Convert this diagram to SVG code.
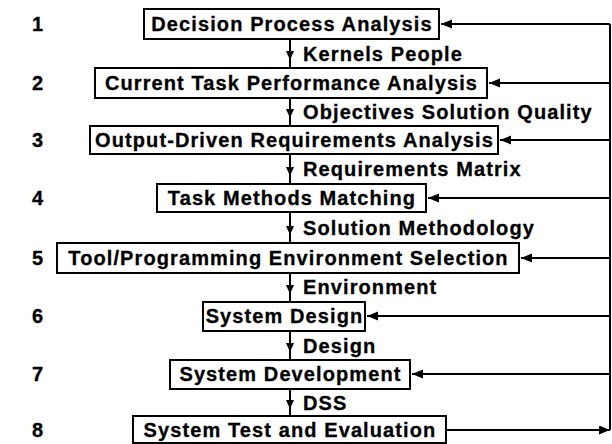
<svg xmlns="http://www.w3.org/2000/svg" width="612" height="444" viewBox="0 0 612 444">
  <style>
    .box { fill: #fff; stroke: #000; stroke-width: 2; }
    .t { font-family: "Liberation Sans", Arial, Helvetica, sans-serif; font-weight: bold; font-size: 20px; letter-spacing: 1.1px; fill: #000; stroke: #000; stroke-width: 0.3; }
    .mid { text-anchor: middle; }
    .wire { stroke: #000; stroke-width: 2; fill: none; }
  </style>
  <defs>
    <marker id="ah" markerUnits="userSpaceOnUse" markerWidth="12" markerHeight="10" refX="11" refY="4.5" orient="auto">
      <path d="M0,0 L11,4.5 L0,9 z" fill="#000"/>
    </marker>
    <marker id="ahd" markerUnits="userSpaceOnUse" markerWidth="10" markerHeight="10" refX="9" refY="4" orient="auto">
      <path d="M0,0 L9,4 L0,8 z" fill="#000"/>
    </marker>
  </defs>

  <!-- step numbers -->
  <g id="step-numbers">
    <text class="t mid" x="38" y="31">1</text>
    <text class="t mid" x="38" y="90">2</text>
    <text class="t mid" x="38" y="147">3</text>
    <text class="t mid" x="38" y="205">4</text>
    <text class="t mid" x="38" y="265">5</text>
    <text class="t mid" x="38" y="323">6</text>
    <text class="t mid" x="38" y="381">7</text>
    <text class="t mid" x="38" y="437">8</text>
  </g>

  <!-- connectors -->
  <g id="connectors">
    <!-- forward flow down the centre -->
    <line class="wire" x1="290" y1="39" x2="290" y2="68"/>
    <line class="wire" x1="290" y1="39" x2="290" y2="60" marker-end="url(#ahd)"/>
    <line class="wire" x1="290" y1="98" x2="290" y2="126"/>
    <line class="wire" x1="290" y1="98" x2="290" y2="118" marker-end="url(#ahd)"/>
    <line class="wire" x1="290" y1="154" x2="290" y2="184"/>
    <line class="wire" x1="290" y1="154" x2="290" y2="176" marker-end="url(#ahd)"/>
    <line class="wire" x1="290" y1="212" x2="290" y2="243"/>
    <line class="wire" x1="290" y1="212" x2="290" y2="235" marker-end="url(#ahd)"/>
    <line class="wire" x1="290" y1="273" x2="290" y2="302"/>
    <line class="wire" x1="290" y1="273" x2="290" y2="294" marker-end="url(#ahd)"/>
    <line class="wire" x1="290" y1="331" x2="290" y2="360"/>
    <line class="wire" x1="290" y1="331" x2="290" y2="352" marker-end="url(#ahd)"/>
    <line class="wire" x1="290" y1="389" x2="290" y2="416"/>
    <line class="wire" x1="290" y1="389" x2="290" y2="409" marker-end="url(#ahd)"/>

    <!-- feedback bus on the right -->
    <line class="wire" x1="610" y1="24" x2="610" y2="430"/>
    <line class="wire" x1="447" y1="430" x2="610" y2="430" marker-end="url(#ah)"/>
    <line class="wire" x1="610" y1="24" x2="441" y2="24" marker-end="url(#ah)"/>
    <line class="wire" x1="610" y1="83" x2="489" y2="83" marker-end="url(#ah)"/>
    <line class="wire" x1="610" y1="140" x2="500" y2="140" marker-end="url(#ah)"/>
    <line class="wire" x1="610" y1="198" x2="428" y2="198" marker-end="url(#ah)"/>
    <line class="wire" x1="610" y1="258" x2="521" y2="258" marker-end="url(#ah)"/>
    <line class="wire" x1="610" y1="316" x2="367" y2="316" marker-end="url(#ah)"/>
    <line class="wire" x1="610" y1="374" x2="412" y2="374" marker-end="url(#ah)"/>
  </g>

  <!-- flow labels -->
  <g id="flow-labels">
    <text class="t" x="303" y="61">Kernels People</text>
    <text class="t" x="303" y="119">Objectives Solution Quality</text>
    <text class="t" x="303" y="176">Requirements Matrix</text>
    <text class="t" x="303" y="235">Solution Methodology</text>
    <text class="t" x="303" y="294">Environment</text>
    <text class="t" x="303" y="353">Design</text>
    <text class="t" x="303" y="410">DSS</text>
  </g>

  <!-- process steps -->
  <g id="decision-process-analysis">
    <rect class="box" x="144" y="9" width="295" height="30"/>
    <text class="t mid" x="292" y="31">Decision Process Analysis</text>
  </g>
  <g id="current-task-performance-analysis">
    <rect class="box" x="95" y="68" width="392" height="30"/>
    <text class="t mid" x="291.5" y="90">Current Task Performance Analysis</text>
  </g>
  <g id="output-driven-requirements-analysis">
    <rect class="box" x="90" y="126" width="408" height="28"/>
    <text class="t mid" x="294.5" y="147">Output-Driven Requirements Analysis</text>
  </g>
  <g id="task-methods-matching">
    <rect class="box" x="157" y="184" width="269" height="28"/>
    <text class="t mid" x="292" y="205">Task Methods Matching</text>
  </g>
  <g id="tool-programming-environment-selection">
    <rect class="box" x="57" y="243" width="462" height="30"/>
    <text class="t mid" x="288.5" y="265">Tool/Programming Environment Selection</text>
  </g>
  <g id="system-design">
    <rect class="box" x="203" y="302" width="162" height="29"/>
    <text class="t mid" x="284.5" y="323">System Design</text>
  </g>
  <g id="system-development">
    <rect class="box" x="170" y="360" width="240" height="29"/>
    <text class="t mid" x="290.5" y="381">System Development</text>
  </g>
  <g id="system-test-and-evaluation">
    <rect class="box" x="133" y="416" width="313" height="27"/>
    <text class="t mid" x="290" y="437">System Test and Evaluation</text>
  </g>
</svg>
